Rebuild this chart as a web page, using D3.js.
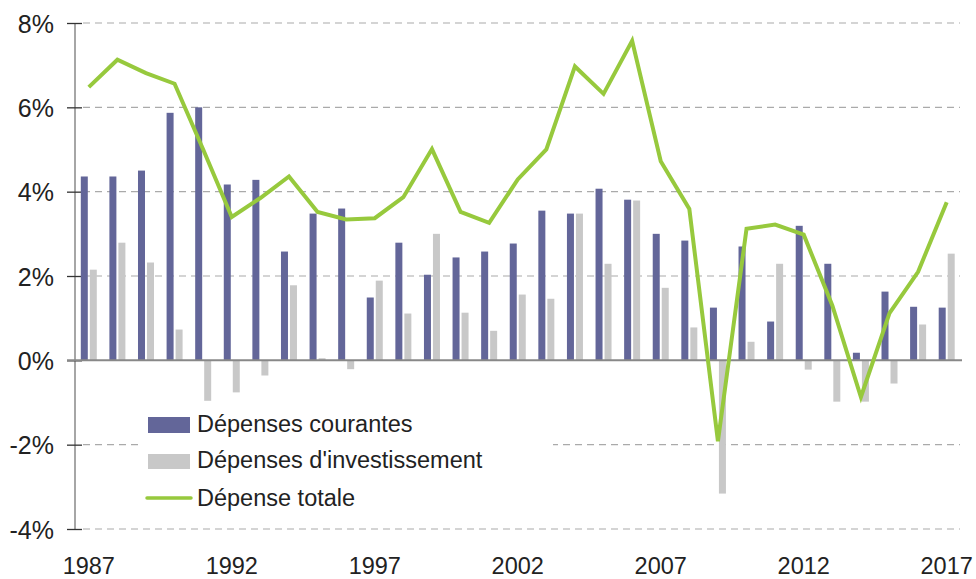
<!DOCTYPE html>
<html><head><meta charset="utf-8">
<script src="https://cdn.jsdelivr.net/npm/d3@7"></script>
<style>
body{margin:0;background:#fff;}
text{font-family:"Liberation Sans",Arial,sans-serif;fill:#222;}
</style></head><body>
<svg id="c" width="976" height="579"></svg>
<script>
const years = d3.range(1987, 2018);
const courantes = [4.36,4.36,4.50,5.87,6.00,4.17,4.28,2.58,3.48,3.60,1.49,2.79,2.03,2.44,2.58,2.77,3.55,3.48,4.07,3.81,3.00,2.84,1.25,2.70,0.92,3.19,2.29,0.18,1.63,1.27,1.25];
const investissement = [2.15,2.79,2.32,0.73,-0.96,-0.76,-0.36,1.78,0.05,-0.21,1.89,1.11,3.00,1.13,0.70,1.56,1.46,3.48,2.29,3.79,1.72,0.78,-3.16,0.44,2.29,-0.22,-0.98,-0.98,-0.55,0.85,2.53];
const totale = [6.48,7.13,6.81,6.56,5.00,3.40,3.85,4.36,3.52,3.34,3.37,3.87,5.01,3.52,3.26,4.29,5.00,6.97,6.32,7.58,4.72,3.59,-1.92,3.12,3.22,2.98,1.30,-0.87,1.12,2.10,3.75];
const yTicks = [-4,-2,0,2,4,6,8];
const xLabels = [1987,1992,1997,2002,2007,2012,2017];
const legendItems = ["Dépenses courantes","Dépenses d'investissement","Dépense totale"];

const svg = d3.select("#c");
const x = d3.scaleBand().domain(years).range([74.5, 961]);
const y = d3.scaleLinear().domain([-4, 8]).range([529, 23]);
const bw = 7, gap = 2;
const AX = 75;

// gridlines
svg.append("g").selectAll("line").data(yTicks.filter(t=>t!==0)).join("line")
  .attr("x1", 83).attr("x2", 960).attr("y1", d=>y(d)).attr("y2", d=>y(d))
  .attr("stroke", "#aaa").attr("stroke-width", 1.2).attr("stroke-dasharray", "7,5");

// y axis
const yAxis = d3.axisLeft(y).tickValues(yTicks).tickFormat(d=>d+"%").tickSize(0).tickSizeOuter(0);
const ga = svg.append("g").attr("transform","translate("+AX+",0)").call(yAxis);
ga.select(".domain").attr("stroke","#888").attr("stroke-width",1.5).attr("d","M0,"+y(8)+"V"+y(-4));
ga.selectAll(".tick line").attr("x1",-8).attr("x2",7).attr("stroke","#333").attr("stroke-width",1.3);
ga.selectAll(".tick text").attr("x",-21).attr("dy","0.36em").attr("font-size",25).attr("fill","#222")
  .style("font-family",'"Liberation Sans",Arial,sans-serif');

// bars
const cx = d => x(d) + x.bandwidth()/2;
svg.append("g").selectAll("rect").data(years).join("rect")
  .attr("x", (d)=>cx(d) - bw - gap/2).attr("width", bw)
  .attr("y", (d,i)=>y(Math.max(0,courantes[i]))).attr("height",(d,i)=>Math.abs(y(courantes[i])-y(0)))
  .attr("fill","#636699");
svg.append("g").selectAll("rect").data(years).join("rect")
  .attr("x", (d)=>cx(d) + gap/2).attr("width", bw)
  .attr("y", (d,i)=>y(Math.max(0,investissement[i]))).attr("height",(d,i)=>Math.abs(y(investissement[i])-y(0)))
  .attr("fill","#c8c8c8");

// zero line
svg.append("line").attr("x1",67).attr("x2",962).attr("y1",y(0)).attr("y2",y(0))
  .attr("stroke","#888").attr("stroke-width",2);

// legend background (hides -2% grid)
svg.append("rect").attr("x",140).attr("y",404).attr("width",413).attr("height",110).attr("fill","#fff");

// line
const line = d3.line().x((d,i)=>cx(years[i])).y(d=>y(d));
svg.append("path").datum(totale).attr("d",line).attr("fill","none")
  .attr("stroke","#97c93d").attr("stroke-width",4).attr("stroke-linejoin","miter");

// x labels
const xa = svg.append("g").attr("transform","translate(0,"+574+")");
xa.selectAll("text").data(xLabels).join("text")
  .attr("x", d=>cx(d)).attr("y",0).attr("text-anchor","middle").attr("font-size",23.5).text(d=>d);

// legend
const lg = svg.append("g");
lg.append("rect").attr("x",148).attr("y",417).attr("width",42).attr("height",16).attr("fill","#636699");
lg.append("rect").attr("x",148).attr("y",454).attr("width",42).attr("height",15).attr("fill","#c8c8c8");
lg.append("line").attr("x1",147).attr("x2",191).attr("y1",498).attr("y2",498).attr("stroke","#97c93d").attr("stroke-width",3.5).attr("stroke-linecap","round");
lg.selectAll("text").data(legendItems).join("text")
  .attr("x",197).attr("y",(d,i)=>[432,468,506][i]).attr("font-size",23.5).text(d=>d);
</script></body></html>
